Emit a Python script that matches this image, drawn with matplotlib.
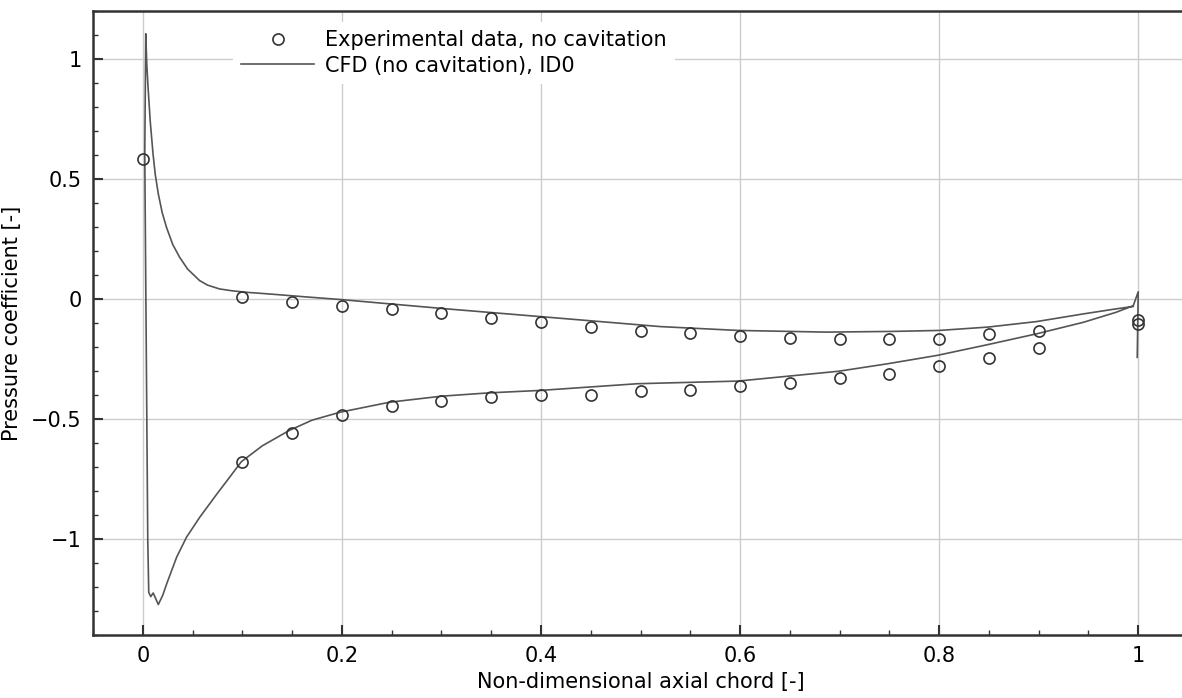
import matplotlib.pyplot as plt
from matplotlib.ticker import MultipleLocator

plt.rcParams["font.family"] = ["DejaVu Sans"]

# experimental Cp, two sides of the blade plus the leading/trailing edge points
EXP_X_UPPER = [0.0, 0.1, 0.15, 0.2, 0.25, 0.3, 0.35, 0.4, 0.45, 0.5, 0.55, 0.6,
               0.65, 0.7, 0.75, 0.8, 0.85, 0.9, 1.0]
EXP_Y_UPPER = [0.585, 0.01, -0.012, -0.028, -0.041, -0.059, -0.078, -0.095, -0.115,
               -0.134, -0.142, -0.156, -0.162, -0.166, -0.166, -0.166, -0.147, -0.134, -0.087]
EXP_X_LOWER = [0.1, 0.15, 0.2, 0.25, 0.3, 0.35, 0.4, 0.45, 0.5, 0.55, 0.6,
               0.65, 0.7, 0.75, 0.8, 0.85, 0.9, 1.0]
EXP_Y_LOWER = [-0.68, -0.557, -0.484, -0.447, -0.424, -0.41, -0.40, -0.402, -0.383,
               -0.378, -0.363, -0.349, -0.331, -0.312, -0.278, -0.245, -0.203, -0.106]

# CFD loop: upper side TE -> LE, stagnation spike, lower side LE -> TE, TE spike
CFD_X = [0.995, 0.978, 0.945, 0.898, 0.849, 0.80, 0.754, 0.687, 0.598, 0.52, 0.439,
         0.305, 0.198, 0.16, 0.13, 0.104, 0.09, 0.077, 0.065, 0.057, 0.045, 0.037,
         0.03, 0.0238, 0.0195, 0.0156, 0.0125, 0.0103, 0.0075, 0.0053, 0.004, 0.003,
         0.002, 0.005, 0.006, 0.008, 0.0105, 0.0156, 0.02, 0.024, 0.034, 0.044, 0.0573,
         0.066, 0.074, 0.085, 0.099, 0.12, 0.147, 0.17, 0.198, 0.248, 0.30, 0.348, 0.399,
         0.497, 0.598, 0.699, 0.748, 0.798, 0.849, 0.898, 0.945, 0.978, 0.995, 1.0, 0.999]
CFD_Y = [-0.031, -0.041, -0.062, -0.094, -0.117, -0.131, -0.135, -0.138, -0.131, -0.115,
         -0.087, -0.041, -0.002, 0.01, 0.02, 0.028, 0.034, 0.042, 0.058, 0.077, 0.125,
         0.174, 0.228, 0.299, 0.36, 0.438, 0.52, 0.605, 0.74, 0.883, 0.98, 1.105,
         0.6, -1.0, -1.222, -1.24, -1.225, -1.273, -1.235, -1.187, -1.076, -0.992, -0.909,
         -0.86, -0.815, -0.755, -0.678, -0.612, -0.548, -0.505, -0.472, -0.43, -0.405,
         -0.391, -0.381, -0.353, -0.342, -0.301, -0.27, -0.235, -0.19, -0.145, -0.097,
         -0.055, -0.028, 0.03, -0.243]

fig = plt.figure(figsize=(11.82, 6.98), dpi=100)
ax = fig.add_axes([93 / 1182, 63 / 698, 1095 / 1182, 624 / 698])

ax.plot(CFD_X, CFD_Y, color="#555555", linewidth=1.2, label="CFD (no cavitation), ID0", zorder=3)
ax.plot(EXP_X_UPPER + EXP_X_LOWER, EXP_Y_UPPER + EXP_Y_LOWER, linestyle="none", marker="o",
        markersize=8, markerfacecolor="none", markeredgecolor="#333333", markeredgewidth=1.2,
        label="Experimental data, no cavitation", zorder=4)

ax.set_xlim(-0.05, 1.05)
ax.set_ylim(-1.4, 1.2)
ax.xaxis.set_minor_locator(MultipleLocator(0.05))
ax.yaxis.set_minor_locator(MultipleLocator(0.1))
ax.set_xticks([0, 0.2, 0.4, 0.6, 0.8, 1.0])
ax.set_xticklabels(["0", "0.2", "0.4", "0.6", "0.8", "1"])
ax.set_yticks([-1, -0.5, 0, 0.5, 1])
ax.set_yticklabels(["\u22121", "\u22120.5", "0", "0.5", "1"])
ax.tick_params(which="major", direction="in", length=7, width=1.5, color="#333333",
               labelsize=15, pad=8)
ax.tick_params(which="minor", direction="in", length=3.5, width=1.0, color="#333333")
ax.tick_params(top=False, right=False, which="both")

ax.grid(True, which="major", color="#cccccc", linewidth=1.0, zorder=0)
for side in ["left", "bottom", "top", "right"]:
    ax.spines[side].set_color("#333333")
    ax.spines[side].set_linewidth(1.8)

ax.set_xlabel("Non-dimensional axial chord [-]", fontsize=15, labelpad=4)
ax.set_ylabel("Pressure coefficient [-]", fontsize=15, labelpad=0)
ax.yaxis.set_label_coords(-0.065, 0.5)

handles, labels = ax.get_legend_handles_labels()
leg = ax.legend(handles[::-1], labels[::-1], loc="upper left",
                bbox_to_anchor=(233 / 1182, 1 - 22 / 698), bbox_transform=fig.transFigure,
                fontsize=15, handlelength=3.5, handletextpad=0.5, labelspacing=0.25,
                frameon=True, facecolor="white", edgecolor="none", framealpha=1.0,
                fancybox=False, borderaxespad=0)
leg.set_zorder(5)

fig.savefig("out.png", dpi=100)
